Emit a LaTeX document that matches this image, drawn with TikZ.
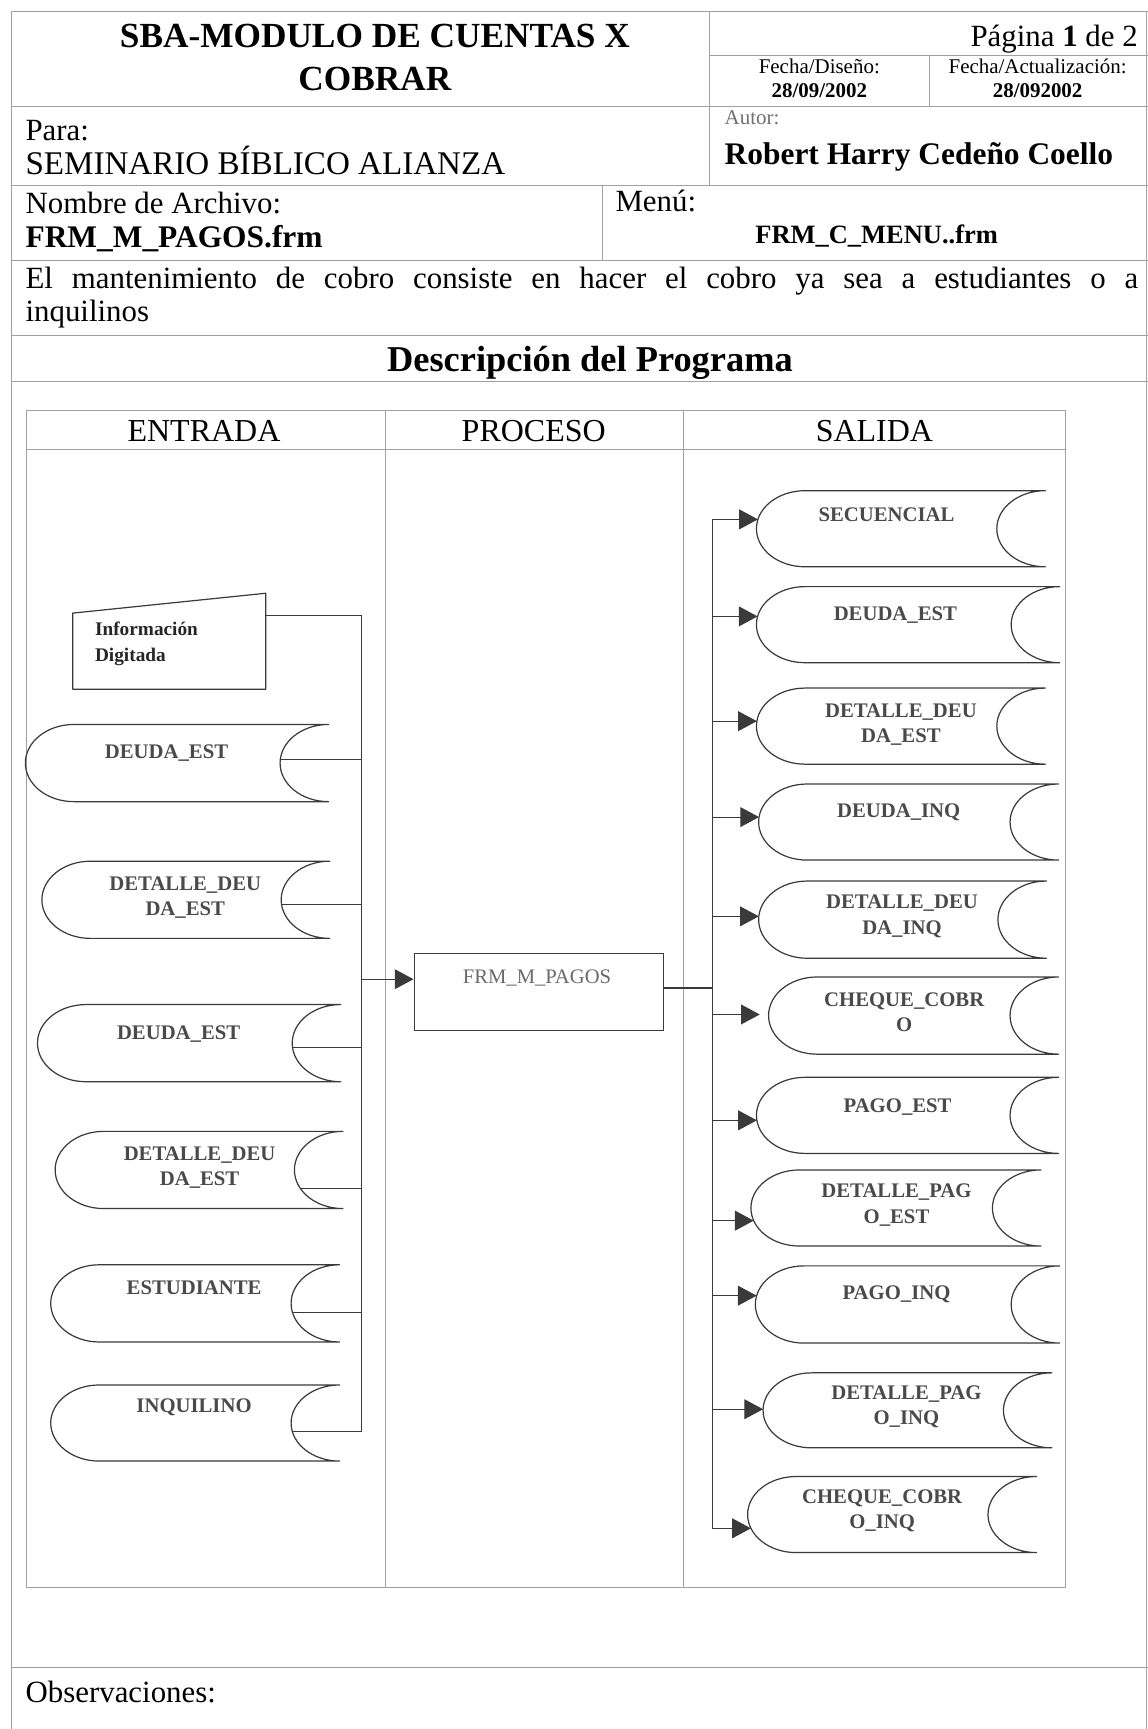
\documentclass[tikz,border=0pt]{standalone}
\usepackage{fontspec}
\setmainfont{Liberation Serif}
\usetikzlibrary{arrows.meta}
\definecolor{frameln}{HTML}{A0A0A0}
\definecolor{shapeln}{HTML}{3A3A3A}
\definecolor{shapetx}{HTML}{4A4A4A}
\definecolor{proctx}{HTML}{6A6A6A}
\definecolor{autortx}{HTML}{707070}
\newcommand\sdrx{44}
% stored-data shape: name, L, T, R, B  (T,B measured downwards)
\newcommand{\storeddata}[5]{%
  \pgfmathsetmacro\sdmid{(#3+#5)/2}%
  \pgfmathsetmacro\sdry{(#5-#3)/2}%
  \draw[sdline] (#2+\sdrx,-#3) -- (#4,-#3)
     arc[start angle=90,end angle=270,x radius=\sdrx,y radius=\sdry]
     -- (#2+\sdrx,-#5)
     arc[start angle=270,end angle=90,x radius=\sdrx,y radius=\sdry] -- cycle;
  \coordinate (#1-L) at (#2,-\sdmid);
}
% point on an arc of a shape: coord name, centre x, T, B, y
\newcommand{\curvept}[5]{%
  \pgfmathsetmacro\cpmid{(#3+#4)/2}%
  \pgfmathsetmacro\cpry{(#4-#3)/2}%
  \pgfmathsetmacro\cpd{(#5-\cpmid)/\cpry}%
  \pgfmathsetmacro\cpx{#2-\sdrx*sqrt(1-\cpd*\cpd)}%
  \coordinate (#1) at (\cpx,-#5);
}
\begin{document}
\begin{tikzpicture}[x=1pt,y=1pt,
  frame/.style={draw=frameln, line width=0.85pt},
  sdline/.style={draw=shapeln, line width=1.1pt, line join=round},
  conn/.style={draw=shapeln, line width=1pt},
  arrowline/.style={conn, -{Triangle[length=17pt,width=18pt]}, fill=shapeln},
  sdtext/.style={font=\fontsize{18.8}{23}\selectfont\bfseries, text=shapetx, align=center, inner sep=0pt},
  txt/.style={inner sep=0pt},
  big/.style={txt, font=\fontsize{28}{30}\selectfont},
  bigb/.style={txt, font=\fontsize{28.5}{30}\selectfont\bfseries},
  small/.style={txt, font=\fontsize{19}{21}\selectfont},
  smallb/.style={txt, font=\fontsize{19}{21}\selectfont\bfseries},
  head/.style={txt, font=\fontsize{29}{32}\selectfont}
]
\useasboundingbox (0,0) rectangle (1041,-1568);
\fill[white] (0,0) rectangle (1041,-1568);

% ---------- form frame ----------
\draw[frame] (10,-10) -- (1041,-10);
\draw[frame] (10,-10) -- (10,-1568);
\draw[frame] (1040,-10) -- (1040,-1568);
\draw[frame] (643,-10) -- (643,-168);
\draw[frame] (643,-50) -- (1041,-50);
\draw[frame] (843,-50) -- (843,-97);
\draw[frame] (10,-97) -- (1041,-97);
\draw[frame] (10,-168) -- (1041,-168);
\draw[frame] (546,-168) -- (546,-236);
\draw[frame] (10,-236) -- (1041,-236);
\draw[frame] (10,-304) -- (1041,-304);
\draw[frame] (10,-346) -- (1041,-346);
\draw[frame] (10,-1512) -- (1041,-1512);

% ---------- header texts ----------
\node[txt, anchor=base, font=\fontsize{32}{36}\selectfont\bfseries] (title1) at (340,-43.5) {SBA-MODULO DE CUENTAS X};
\node[txt, anchor=base, font=\fontsize{32}{36}\selectfont\bfseries] (title2) at (340,-82) {COBRAR};
\node[txt, anchor=base east, font=\fontsize{28}{30}\selectfont] (pagina) at (1032,-42) {Página \textbf{1} de 2};
\node[small, anchor=base] (fdis) at (743,-66.5) {Fecha/Diseño:};
\node[smallb, anchor=base] (fdisv) at (743,-88) {28/09/2002};
\node[small, anchor=base] (fact) at (941,-66.5) {Fecha/Actualización:};
\node[smallb, anchor=base] (factv) at (941,-88) {28/092002};
\node[big, anchor=base west] (para) at (23,-127) {Para:};
\node[txt, anchor=base west, font=\fontsize{30}{32}\selectfont] (sem) at (23,-158) {SEMINARIO BÍBLICO ALIANZA};
\node[small, anchor=base west, text=autortx] (autor) at (657,-112.5) {Autor:};
\node[bigb, anchor=base west] (robert) at (657,-149) {Robert Harry Cedeño Coello};
\node[big, anchor=base west] (nombre) at (23,-194) {Nombre de Archivo:};
\node[bigb, anchor=base west] (archivo) at (23,-224) {FRM\_M\_PAGOS.frm};
\node[big, anchor=base west] (menu) at (558,-192) {Menú:};
\node[txt, anchor=base, font=\fontsize{24}{26}\selectfont\bfseries] (menuv) at (795,-221) {FRM\_C\_MENU..frm};
\node[big, anchor=base west] (desc1) at (23,-262) {\makebox[1009pt][s]{El mantenimiento de cobro consiste en hacer el cobro ya sea a estudiantes o a}};
\node[big, anchor=base west] (desc2) at (23,-292) {inquilinos};
\node[txt, anchor=base, font=\fontsize{33}{36}\selectfont\bfseries] (descprog) at (535,-337) {Descripción del Programa};
\node[big, anchor=base west] (obs) at (23,-1544) {Observaciones:};

% ---------- diagram table ----------
\draw[frame] (24,-372) rectangle (966,-1440);
\draw[frame] (24,-408) -- (966,-408);
\draw[frame] (350,-372) -- (350,-1440);
\draw[frame] (620,-372) -- (620,-1440);
\node[head, anchor=base] (hent) at (185,-400) {ENTRADA};
\node[head, anchor=base] (hpro) at (484,-400) {PROCESO};
\node[head, anchor=base] (hsal) at (793,-400) {SALIDA};

% ---------- ENTRADA ----------
\draw[sdline] (66,-556) -- (241,-538) -- (241,-625) -- (66,-625) -- cycle;
\node[txt, align=left, anchor=west, font=\fontsize{17.5}{24}\selectfont\bfseries, text=black!85] (info) at (86,-584) {Información\\Digitada};
\coordinate (info-r) at (241,-558);

\storeddata{e1}{23}{657}{298}{727}
\node[sdtext] (e1t) at (151,-683) {DEUDA\_EST};
\storeddata{e2}{38}{781}{299}{851}
\node[sdtext] (e2t) at (168,-814) {DETALLE\_DEU\\DA\_EST};
\storeddata{e3}{34}{911}{309}{981}
\node[sdtext] (e3t) at (162,-938) {DEUDA\_EST};
\storeddata{e4}{50}{1026}{311}{1096}
\node[sdtext] (e4t) at (181,-1059) {DETALLE\_DEU\\DA\_EST};
\storeddata{e5}{46}{1147}{308}{1217}
\node[sdtext] (e5t) at (176,-1168) {ESTUDIANTE};
\storeddata{e6}{46}{1256}{308}{1325}
\node[sdtext] (e6t) at (176,-1276) {INQUILINO};

\curvept{e1c}{298}{657}{727}{689}
\curvept{e2c}{299}{781}{851}{820}
\curvept{e3c}{309}{911}{981}{950}
\curvept{e4c}{311}{1026}{1096}{1078}
\curvept{e5c}{308}{1147}{1217}{1190}
\curvept{e6c}{308}{1256}{1325}{1298}

\coordinate (lbusT) at (328,-558);
\coordinate (lbusB) at (328,-1298);
\coordinate (lbusP) at (328,-888);
\draw[conn] (info-r) -- (lbusT) -- (lbusB) -- (e6c);
\foreach \c in {e1c,e2c,e3c,e4c,e5c}{\draw[conn] (\c) -- (\c -| lbusT);}

% ---------- PROCESO ----------
\node[draw=shapeln, line width=1.1pt, minimum width=226pt, minimum height=70pt, anchor=north west, inner sep=0pt] (proc) at (375,-864) {};
\node[txt, font=\fontsize{18.7}{22}\selectfont, text=proctx] (proct) at (487,-887) {FRM\_M\_PAGOS};
\draw[arrowline] (lbusP) -- (lbusP -| proc.west);

% ---------- SALIDA ----------
\storeddata{s1}{686}{445}{948}{514}
\node[sdtext] (s1t) at (804,-467) {SECUENCIAL};
\storeddata{s2}{686}{532}{961}{601}
\node[sdtext] (s2t) at (812,-558) {DEUDA\_EST};
\storeddata{s3}{686}{624}{948}{693}
\node[sdtext] (s3t) at (817,-657) {DETALLE\_DEU\\DA\_EST};
\storeddata{s4}{688}{711}{960}{780}
\node[sdtext] (s4t) at (815,-737) {DEUDA\_INQ};
\storeddata{s5}{688}{799}{949}{869}
\node[sdtext] (s5t) at (818,-831) {DETALLE\_DEU\\DA\_INQ};
\storeddata{s6}{697}{886}{960}{956}
\node[sdtext] (s6t) at (820,-918) {CHEQUE\_COBR\\O};
\storeddata{s7}{686}{977}{960}{1046}
\node[sdtext] (s7t) at (814,-1004) {PAGO\_EST};
\storeddata{s8}{681}{1061}{944}{1130}
\node[sdtext] (s8t) at (813,-1093) {DETALLE\_PAG\\O\_EST};
\storeddata{s9}{685}{1148}{961}{1218}
\node[sdtext] (s9t) at (813,-1174) {PAGO\_INQ};
\storeddata{s10}{692}{1245}{954}{1313}
\node[sdtext] (s10t) at (822,-1276) {DETALLE\_PAG\\O\_INQ};
\storeddata{s11}{678}{1339}{940}{1408}
\node[sdtext] (s11t) at (800,-1370) {CHEQUE\_COBR\\O\_INQ};

\curvept{s1a}{686+44}{445}{514}{471}
\curvept{s2a}{686+44}{532}{601}{559}
\curvept{s3a}{686+44}{624}{693}{654}
\curvept{s4a}{688+44}{711}{780}{741}
\curvept{s5a}{688+44}{799}{869}{831}
\coordinate (s6a) at (689,-920);
\curvept{s7a}{686+44}{977}{1046}{1016}
\curvept{s8a}{681+44}{1061}{1130}{1107}
\curvept{s9a}{685+44}{1148}{1218}{1175}
\curvept{s10a}{692+44}{1245}{1313}{1278}
\curvept{s11a}{678+44}{1339}{1408}{1386}

\coordinate (rbusT) at (646,-471);
\coordinate (rbusB) at (646,-1386);
\coordinate (rbusP) at (646,-896);
\draw[conn] (rbusT) -- (rbusB);
\draw[conn] (proc.east |- rbusP) -- (rbusP);
\foreach \a in {s1a,s2a,s3a,s4a,s5a,s6a,s7a,s8a,s9a,s10a,s11a}{\draw[arrowline] (\a -| rbusT) -- (\a);}
\end{tikzpicture}
\end{document}
